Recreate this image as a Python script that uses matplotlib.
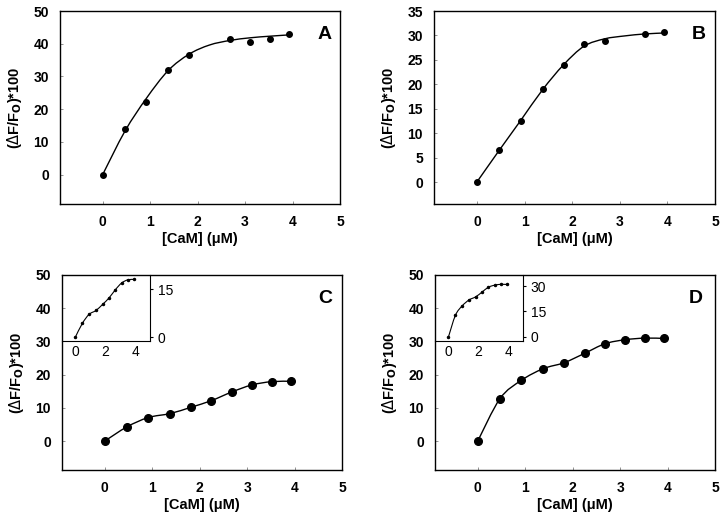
import numpy as np
import matplotlib
matplotlib.use("Agg")
import matplotlib.pyplot as plt
from matplotlib.path import Path
from matplotlib.patches import PathPatch

plt.rcParams['font.family'] = ['Liberation Sans', 'DejaVu Sans']

# titration data, [CaM] in uM
cam_ab = [0, 0.47, 0.92, 1.38, 1.82, 2.68, 3.10, 3.52, 3.93]
resp_a = [0, 14.0, 22.1, 31.9, 36.7, 41.5, 40.6, 41.5, 43.1]
cam_b = [0, 0.47, 0.92, 1.38, 1.82, 2.25, 2.68, 3.52, 3.93]
resp_b = [0, 6.6, 12.4, 19.1, 24.0, 28.2, 28.9, 30.3, 30.7]

# fitted curves
fit_x = [0, 0.47, 0.92, 1.38, 1.82, 2.25, 2.68, 3.10, 3.52, 3.93]
fit_a = [0, 13.3, 23.3, 31.8, 36.8, 39.6, 41.0, 41.8, 42.3, 42.7]
fit_b = [0, 6.5, 12.6, 18.9, 24.0, 27.8, 29.3, 29.9, 30.3, 30.5]

cam_cd = [0, 0.47, 0.92, 1.38, 1.82, 2.25, 2.68, 3.10, 3.52, 3.93]
resp_c = [0, 4.3, 7.1, 8.3, 10.2, 12.2, 14.8, 16.9, 17.9, 18.0]
resp_d = [0, 12.8, 18.3, 21.8, 23.6, 26.4, 29.3, 30.5, 31.0, 30.9]

ylab = r'($\Delta$F/F$_\mathbf{O}$)*100'
xlab = '[CaM] (\u03bcM)'


def smooth_line(ax, x, y, lw=1.0):
    # excel style smoothed line: cubic bezier through the points
    p = np.column_stack([x, y]).astype(float)
    ext = np.vstack([p[0], p, p[-1]])
    verts = [p[0]]
    codes = [Path.MOVETO]
    for i in range(len(p) - 1):
        a, b, c, d = ext[i], ext[i + 1], ext[i + 2], ext[i + 3]
        verts += [b + (c - a) / 6, c - (d - b) / 6, c]
        codes += [Path.CURVE4] * 3
    ax.add_patch(PathPatch(Path(verts, codes), fill=False, lw=lw, color='black'))


def style_main(ax, ylim, yticks, letter, lx):
    ax.set_xlim(-0.9, 5)
    ax.set_ylim(*ylim)
    ax.set_xticks(range(6))
    ax.set_yticks(yticks)
    ax.tick_params(length=2, width=0.6, direction='in', color='0.5',
                   pad=8, labelsize=10)
    for t in ax.get_xticklabels() + ax.get_yticklabels():
        t.set_fontweight('bold')
    for s in ax.spines.values():
        s.set_linewidth(1.0)
    ax.set_xlabel(xlab, fontsize=10.5, fontweight='bold', labelpad=2)
    ax.set_ylabel(ylab, fontsize=10.5, fontweight='bold', labelpad=7)
    ax.text(lx, 0.88, letter, transform=ax.transAxes, fontsize=14,
            fontweight='bold', ha='center', va='center')


def inset(fig, rect, x, y, ylim, yticks):
    ins = fig.add_axes(rect)
    ins.patch.set_alpha(0)
    smooth_line(ins, x, y, lw=0.8)
    ins.plot(x, y, 'o', color='black', ms=1.5)
    ins.set_xlim(-0.9, 5)
    ins.set_ylim(*ylim)
    ins.set_xticks([0, 2, 4])
    ins.set_yticks(yticks)
    ins.yaxis.tick_right()
    ins.tick_params(axis='y', length=2.5, direction='out', pad=3, labelsize=10)
    ins.tick_params(axis='x', length=0, pad=3, labelsize=10)
    ins.spines['top'].set_visible(False)
    ins.spines['left'].set_visible(False)
    for s in ['right', 'bottom']:
        ins.spines[s].set_linewidth(0.8)
    return ins


fig = plt.figure(figsize=(7.2, 5.17), dpi=100)

ax_a = fig.add_axes([0.0833, 0.6054, 0.3889, 0.3733])
smooth_line(ax_a, fit_x, fit_a)
ax_a.plot(cam_ab, resp_a, 'o', color='black', ms=4)
style_main(ax_a, (-9, 50), range(0, 51, 10), 'A', 0.946)

ax_b = fig.add_axes([0.6028, 0.6054, 0.3903, 0.3733])
smooth_line(ax_b, fit_x, fit_b)
ax_b.plot(cam_b, resp_b, 'o', color='black', ms=4)
style_main(ax_b, (-4.5, 35), range(0, 36, 5), 'B', 0.943)

ax_c = fig.add_axes([0.0861, 0.0909, 0.3889, 0.3772])
smooth_line(ax_c, cam_cd, resp_c)
ax_c.plot(cam_cd, resp_c, 'o', color='black', ms=5.5)
style_main(ax_c, (-8.7, 50), range(0, 51, 10), 'C', 0.94)
inset(fig, [0.0861, 0.3404, 0.1222, 0.1277], cam_cd, resp_c, (-1.25, 19.4), [0, 15])

ax_d = fig.add_axes([0.6042, 0.0909, 0.3889, 0.3772])
smooth_line(ax_d, cam_cd, resp_d)
ax_d.plot(cam_cd, resp_d, 'o', color='black', ms=5.5)
style_main(ax_d, (-8.7, 50), range(0, 51, 10), 'D', 0.93)
inset(fig, [0.6042, 0.3404, 0.1222, 0.1277], cam_cd, resp_d, (-2.4, 36.5), [0, 15, 30])

fig.savefig('out.png', dpi=100)
